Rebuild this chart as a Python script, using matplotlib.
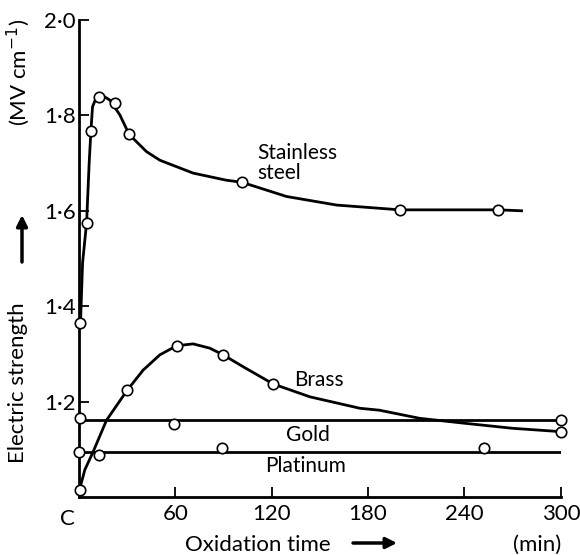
import matplotlib.pyplot as plt

plt.rcParams['font.family'] = ['Lato', 'DejaVu Sans']

# measured points (min, MV/cm)
steel_t = [1.0, 4.8, 7.5, 12.6, 22.4, 31.3, 101.3, 199.8, 261.0]
steel_e = [1.364, 1.575, 1.768, 1.839, 1.825, 1.760, 1.660, 1.602, 1.602]
brass_t = [0.6, 30.1, 60.8, 89.8, 120.9, 300.0]
brass_e = [1.015, 1.224, 1.317, 1.298, 1.237, 1.137]
gold_t = [0.6, 59.3, 300.0]
gold_e = [1.165, 1.152, 1.161]
plat_t = [0.0, 12.6, 89.3, 252.0]
plat_e = [1.095, 1.089, 1.103, 1.102]

# hand-drawn curves
steel_curve_t = [1.0, 2.3, 4.8, 6.4, 7.5, 8.5, 11.0, 14.1, 19.3, 25.5, 31.3, 42.1,
                 50.4, 71.1, 91.9, 101.3, 129.2, 160.4, 199.8, 261.0, 275.5]
steel_curve_e = [1.364, 1.491, 1.575, 1.700, 1.768, 1.818, 1.839, 1.843, 1.832, 1.801,
                 1.760, 1.724, 1.706, 1.679, 1.664, 1.660, 1.630, 1.612, 1.602, 1.602, 1.600]
brass_curve_t = [0.6, 3.7, 8.9, 17.2, 30.1, 40.0, 50.4, 60.8, 71.1, 81.5, 89.8, 102.3,
                 120.9, 143.8, 174.9, 187.0, 212.0, 239.0, 270.0, 300.0]
brass_curve_e = [1.018, 1.057, 1.095, 1.161, 1.224, 1.266, 1.298, 1.317, 1.321, 1.312,
                 1.298, 1.273, 1.237, 1.210, 1.186, 1.182, 1.165, 1.155, 1.144, 1.137]
gold_level = 1.161
plat_level = 1.095

xticks = [60, 120, 180, 240, 300]
yticks = [1.2, 1.4, 1.6, 1.8, 2.0]

fig = plt.figure(figsize=(5.8, 5.55), dpi=100)
ax = fig.add_axes([0.136, 0.1045, 0.831, 0.8595])

lw = 2.0
ax.plot(steel_curve_t, steel_curve_e, color='black', lw=lw, solid_joinstyle='round')
ax.plot(brass_curve_t, brass_curve_e, color='black', lw=lw, solid_joinstyle='round')
ax.plot([0, 300], [gold_level, gold_level], color='black', lw=lw)
ax.plot([0, 300], [plat_level, plat_level], color='black', lw=lw)

for t, e in [(steel_t, steel_e), (brass_t, brass_e), (gold_t, gold_e), (plat_t, plat_e)]:
    ax.plot(t, e, 'o', ms=7.5, mfc='white', mec='black', mew=1.2, clip_on=False, zorder=5)

ax.set_xlim(0, 300)
ax.set_ylim(1.0, 2.0)
for s in ['top', 'right']:
    ax.spines[s].set_visible(False)
for s in ['left', 'bottom']:
    ax.spines[s].set_linewidth(2)

ax.set_xticks(xticks)
ax.set_xticklabels([str(v) for v in xticks])
ax.set_yticks(yticks)
ax.set_yticklabels([f'{v:.1f}'.replace('.', '·') for v in yticks])
ax.tick_params(direction='in', length=7, width=1.3, labelsize=16, pad=2)
ax.tick_params(axis='x', pad=5)
ax.text(-7, 0.975, 'C', fontsize=16, ha='center', va='top')

ax.text(111, 1.70, 'Stainless\nsteel', fontsize=15, ha='left', va='center',
        linespacing=0.95)
ax.text(134, 1.245, 'Brass', fontsize=15, ha='left', va='center')
ax.text(129, 1.131, 'Gold', fontsize=15, ha='left', va='center')
ax.text(116, 1.066, 'Platinum', fontsize=15, ha='left', va='center')

fig.text(258 / 580, 1 - 545 / 555, 'Oxidation time', fontsize=16, ha='center', va='center')
fig.text(537 / 580, 1 - 545 / 555, '(min)', fontsize=16, ha='center', va='center')
fig.text(18 / 580, 1 - 383 / 555, 'Electric strength', fontsize=16, rotation=90,
         ha='center', va='center')
fig.text(18 / 580, 1 - 72 / 555, '(MV cm$^{-1}$)', fontsize=16, rotation=90,
         ha='center', va='center')
arrow = dict(arrowstyle='-|>', lw=2.5, color='black', mutation_scale=16, shrinkA=0, shrinkB=0)
ax.annotate('', xy=(22, 555 - 215), xytext=(22, 555 - 262), xycoords='figure pixels',
            textcoords='figure pixels', arrowprops=arrow, annotation_clip=False)
ax.annotate('', xy=(397, 555 - 543), xytext=(353, 555 - 543), xycoords='figure pixels',
            textcoords='figure pixels', arrowprops=arrow, annotation_clip=False)

fig.savefig('out.png', dpi=100)
